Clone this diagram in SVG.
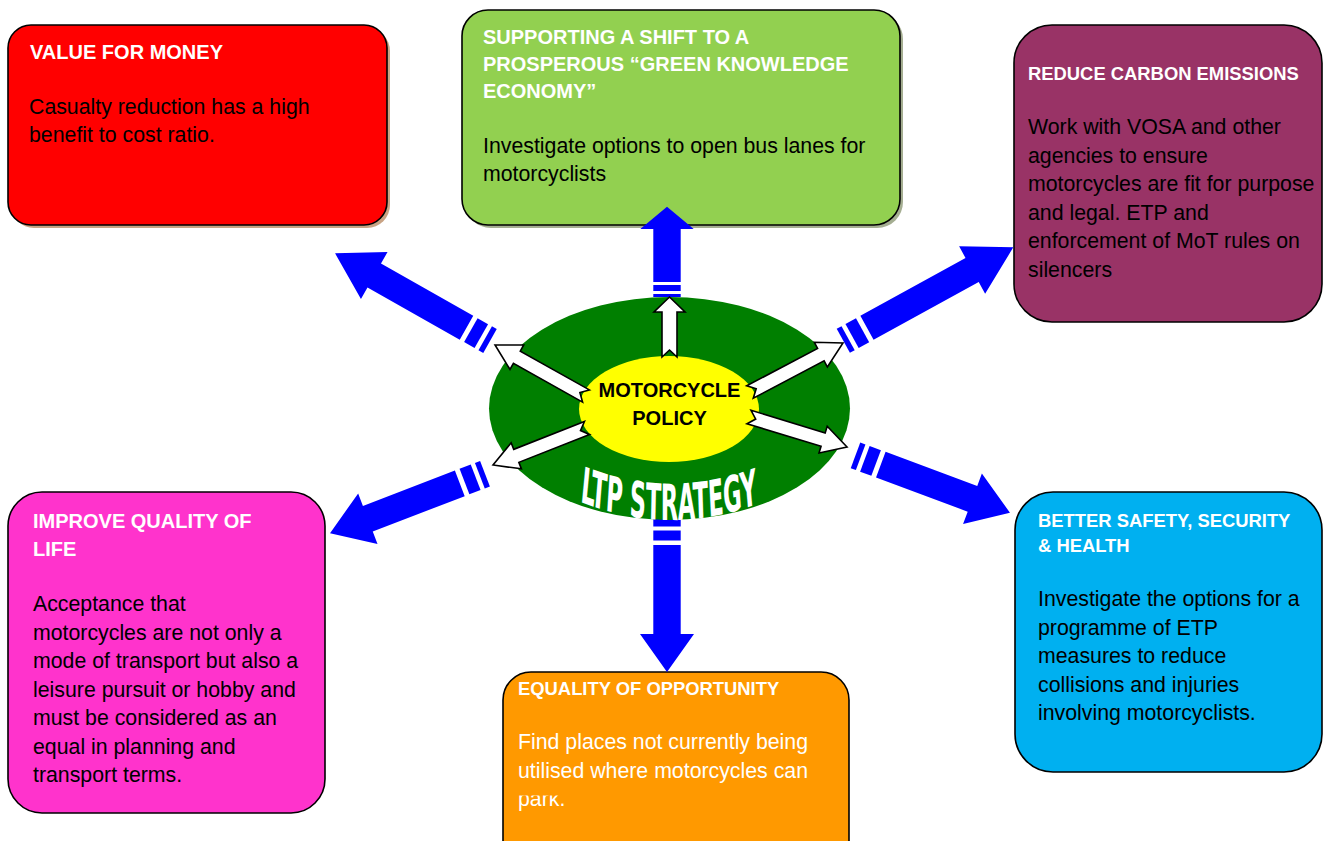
<svg xmlns="http://www.w3.org/2000/svg" width="1323" height="841" viewBox="0 0 1323 841">
<style>
.box{stroke:#000;stroke-width:1.6}
.t{font-family:"Liberation Sans",Arial,sans-serif;font-weight:bold;fill:#fff}
.t20{font-size:20px}
.t18{font-size:18.4px}
.b{font-family:"Liberation Sans",Arial,sans-serif;font-size:21.3px;fill:#000}
.blue{fill:#0000ff}
.wa{fill:#fff;stroke:#000;stroke-width:1.6;stroke-linejoin:miter}
</style>
<defs>
<clipPath id="parkclip"><rect x="500" y="795.5" width="360" height="50"/></clipPath>
<path id="ltparc" d="M576,250 Q669,269.5 762,251"/>
</defs>
<rect width="1323" height="841" fill="#fff"/>

<g id="value-for-money">
<rect x="11" y="28" width="379" height="200" rx="23" fill="#c9a384"/>
<rect class="box" x="8" y="25" width="379" height="200" rx="23" fill="#ff0000"/>
<text class="t t20" x="30" y="59">VALUE FOR MONEY</text>
<text class="b" x="29" y="114">Casualty reduction has a high</text>
<text class="b" x="29" y="141.5">benefit to cost ratio.</text>
</g>

<g id="green-economy">
<rect x="465" y="13" width="438" height="215" rx="26" fill="#a5ae92"/>
<rect class="box" x="462" y="10" width="438" height="215" rx="26" fill="#92d050"/>
<text class="t t20" x="483" y="44">SUPPORTING A SHIFT TO A</text>
<text class="t t20" x="483" y="71">PROSPEROUS “GREEN KNOWLEDGE</text>
<text class="t t20" x="483" y="98">ECONOMY”</text>
<text class="b" x="483" y="152.5">Investigate options to open bus lanes for</text>
<text class="b" x="483" y="181">motorcyclists</text>
</g>

<g id="reduce-carbon">
<rect class="box" x="1014" y="25" width="308" height="297" rx="38" fill="#993366"/>
<text class="t t18" x="1028" y="80">REDUCE CARBON EMISSIONS</text>
<text class="b" x="1028" y="134">Work with VOSA and other</text>
<text class="b" x="1028" y="162.5">agencies to ensure</text>
<text class="b" x="1028" y="191">motorcycles are fit for purpose</text>
<text class="b" x="1028" y="219.5">and legal. ETP and</text>
<text class="b" x="1028" y="248">enforcement of MoT rules on</text>
<text class="b" x="1028" y="276.5">silencers</text>
</g>

<g id="quality-of-life">
<rect class="box" x="8" y="492" width="317" height="321" rx="34" fill="#ff33cc"/>
<text class="t t20" x="33" y="528">IMPROVE QUALITY OF</text>
<text class="t t20" x="33" y="556">LIFE</text>
<text class="b" x="33" y="611">Acceptance that</text>
<text class="b" x="33" y="639.5">motorcycles are not only a</text>
<text class="b" x="33" y="668">mode of transport but also a</text>
<text class="b" x="33" y="696.5">leisure pursuit or hobby and</text>
<text class="b" x="33" y="725">must be considered as an</text>
<text class="b" x="33" y="753.5">equal in planning and</text>
<text class="b" x="33" y="782">transport terms.</text>
</g>

<g id="safety-health">
<rect class="box" x="1015" y="492" width="307" height="280" rx="38" fill="#00b0f0"/>
<text class="t t18" x="1038" y="527">BETTER SAFETY, SECURITY</text>
<text class="t t18" x="1038" y="552">&amp; HEALTH</text>
<text class="b" x="1038" y="606">Investigate the options for a</text>
<text class="b" x="1038" y="634.5">programme of ETP</text>
<text class="b" x="1038" y="663">measures to reduce</text>
<text class="b" x="1038" y="691.5">collisions and injuries</text>
<text class="b" x="1038" y="720">involving motorcyclists.</text>
</g>

<g id="equality">
<rect class="box" x="503" y="672" width="346" height="200" rx="28" fill="#ff9900"/>
<text class="t t18" x="518" y="695">EQUALITY OF OPPORTUNITY</text>
<text class="b" x="518" y="749" fill="#fff" style="fill:#fff">Find places not currently being</text>
<text class="b" x="518" y="777.5" style="fill:#fff">utilised where motorcycles can</text>
<text class="b" x="518" y="805.5" style="fill:#fff" clip-path="url(#parkclip)">park.</text>
</g>

<g id="connectors">
<g class="blue">
<rect x="653.3" y="294" width="27.4" height="3"/>
<rect x="653.3" y="285" width="27.4" height="6"/>
<path d="M653.3,282 V229 H640.3 L667,206.7 L693.7,229 H680.7 V282 Z"/>
<rect x="653.3" y="519" width="27.4" height="7.5"/>
<rect x="653.3" y="530.5" width="27.4" height="10"/>
<path d="M653.3,545 V634 H640 L667,672 L694,634 H680.7 V545 Z"/>
</g>
<g class="blue" transform="translate(490,341) rotate(-150.5)">
<rect x="0" y="-13.7" width="5.5" height="27.4"/><rect x="10" y="-13.7" width="12" height="27.4"/>
<path d="M27,-13.7 H133 V-27 L178,0 L133,27 V13.7 H27 Z"/>
</g>
<g class="blue" transform="translate(843.3,340.8) rotate(-28.8)">
<rect x="0" y="-13.7" width="5.5" height="27.4"/><rect x="10" y="-13.7" width="12" height="27.4"/>
<path d="M27,-13.7 H147 V-27 L194,0 L147,27 V13.7 H27 Z"/>
</g>
<g class="blue" transform="translate(485,473.7) rotate(159)">
<rect x="0" y="-13.7" width="5.5" height="27.4"/><rect x="10" y="-13.7" width="12" height="27.4"/>
<path d="M27,-13.7 H125.5 V-27 L166,0 L125.5,27 V13.7 H27 Z"/>
</g>
<g class="blue" transform="translate(855.5,455.3) rotate(20.4)">
<rect x="0" y="-13.7" width="5.5" height="27.4"/><rect x="10" y="-13.7" width="12" height="27.4"/>
<path d="M27,-13.7 H124.8 V-27 L164.8,0 L124.8,27 V13.7 H27 Z"/>
</g>
</g>

<g id="ltp-strategy">
<ellipse cx="669.5" cy="408.5" rx="180.5" ry="111.5" fill="#007f00"/>
<g transform="scale(1,2)">
<text font-family="'DejaVu Sans Condensed','DejaVu Sans',sans-serif" font-weight="bold" font-size="25" fill="#fff" text-anchor="middle"><textPath href="#ltparc" startOffset="50%" textLength="179" lengthAdjust="spacingAndGlyphs">LTP STRATEGY</textPath></text>
</g>
</g>

<g id="motorcycle-policy">
<ellipse cx="669" cy="409" rx="90" ry="53" fill="#ffff00"/>
</g>

<g id="white-arrows">
<path class="wa" transform="translate(669.5,357) rotate(-90)" d="M0,-7.5 H45 V-15.5 L60,0 L45,15.5 V7.5 H0 L7,0 Z"/>
<path class="wa" transform="translate(586,396) rotate(-150.7)" d="M0,-7 H79.3 V-14 L104.3,0 L79.3,14 V7 H0 L7,0 Z"/>
<path class="wa" transform="translate(750,392) rotate(-27.8)" d="M0,-7 H80.1 V-14 L105.1,0 L80.1,14 V7 H0 L7,0 Z"/>
<path class="wa" transform="translate(587,428) rotate(158.5)" d="M0,-7 H76 V-14 L101,0 L76,14 V7 H0 L7,0 Z"/>
<path class="wa" transform="translate(749,417) rotate(17)" d="M0,-7 H77.5 V-14 L102.5,0 L77.5,14 V7 H0 L7,0 Z"/>
</g>

<g id="center-label">
<text font-family="'Liberation Sans',Arial,sans-serif" font-weight="bold" font-size="20" fill="#000" text-anchor="middle" x="669.5" y="397">MOTORCYCLE</text>
<text font-family="'Liberation Sans',Arial,sans-serif" font-weight="bold" font-size="20" fill="#000" text-anchor="middle" x="669.5" y="425">POLICY</text>
</g>
</svg>
